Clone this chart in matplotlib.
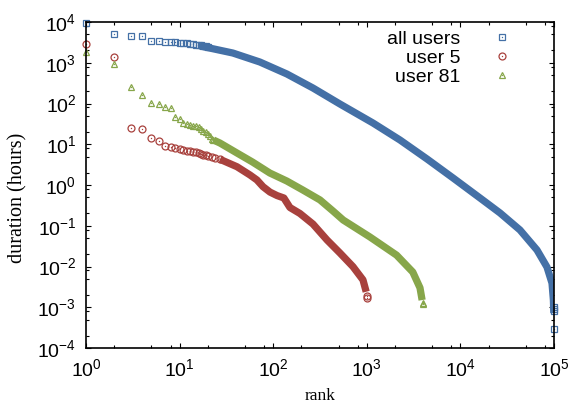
import numpy as np
import matplotlib
matplotlib.use("Agg")
import matplotlib.pyplot as plt
from matplotlib.ticker import LogLocator, NullFormatter, LogFormatterSciNotation

BLUE = '#4470a6'
RED = '#a8413d'
GREEN = '#87a64a'

# all users: the top ranks are separate points, the rest is a dense band
ALL_RANK_HEAD = [1, 2, 3, 4, 5, 6, 7, 8, 9, 10, 11, 12, 13, 14, 15, 16, 17, 18, 19, 20]
ALL_DUR_HEAD = [9500, 5100, 4500, 4500, 3400, 3350, 3300, 3250, 3200, 3100,
                3050, 3000, 2950, 2880, 2800, 2750, 2680, 2620, 2560, 2500]
ALL_RANK_BODY = [16.5, 37, 72, 140, 266, 517, 1165, 2263, 4400, 8340, 16200,
                 26500, 43300, 65800, 84100, 95200, 98500, 99500]
ALL_DUR_BODY = [2580, 1735, 1043, 530, 240, 97, 33.2, 12.7, 4.35, 1.49, 0.48,
                0.206, 0.0787, 0.0254, 0.0097, 0.0039, 0.0015, 0.00072]
ALL_RANK_TAIL = [99600, 99800, 99900, 100000]
ALL_DUR_TAIL = [0.0010, 0.0009, 0.0008, 0.0003]

# user 5
U5_RANK_HEAD = [1, 2, 3, 4, 5, 6, 7, 8, 9, 10, 11, 12, 13, 14, 15, 16, 17,
                18, 19, 20, 22, 24, 27]
U5_DUR_HEAD = [2900, 1380, 25.5, 24, 14, 11.8, 9.1, 8.8, 7.9, 7.7, 7.2, 6.9,
               6.7, 6.6, 6.5, 6.2, 5.8, 5.5, 5.3, 5.1, 4.8, 4.6, 4.27]
U5_RANK_BODY = [27, 41, 56.5, 67, 77.8, 92.4, 110, 130, 151, 193, 266, 376,
                517, 712, 910, 985]
U5_DUR_BODY = [4.27, 2.81, 1.76, 1.33, 0.91, 0.67, 0.55, 0.48, 0.28, 0.2,
               0.11, 0.0447, 0.0214, 0.0099, 0.0047, 0.0024]
U5_RANK_TAIL = [995, 1000]
U5_DUR_TAIL = [0.0019, 0.0017]

# user 81
U81_RANK_HEAD = [1, 2, 3, 4, 5, 6, 7, 8, 9, 10, 11, 12, 13, 14, 15, 16, 17,
                 18, 19, 20, 21, 22, 23]
U81_DUR_HEAD = [1866, 933, 259, 162, 103, 95, 82, 78, 47, 41, 34, 31, 29.5,
                28.5, 27.5, 26.5, 24, 21.5, 19.5, 17.5, 15.5, 13.5, 12.7]
U81_RANK_BODY = [23, 27, 41, 60, 92, 140, 208, 316, 435, 560, 1080, 2080,
                 3100, 3700, 3900]
U81_DUR_BODY = [12.7, 10.7, 6.1, 3.67, 1.97, 1.25, 0.75, 0.43, 0.23, 0.138,
                0.053, 0.019, 0.0073, 0.003, 0.0015]
U81_RANK_TAIL = [3950, 3960]
U81_DUR_TAIL = [0.0013, 0.0012]

plt.rcParams['font.family'] = 'Liberation Sans'
plt.rcParams['mathtext.fontset'] = 'custom'
plt.rcParams['mathtext.rm'] = 'Liberation Sans'
plt.rcParams['mathtext.it'] = 'Liberation Sans:italic'
plt.rcParams['mathtext.bf'] = 'Liberation Sans:bold'

fig = plt.figure(figsize=(5.71, 4.05), dpi=100)
ax = fig.add_axes([86 / 571, 1 - 348 / 405, 468 / 571, 326 / 405])

BAND_LW = 5.2
MS = 5


def plot_series(head_r, head_d, body_r, body_d, tail_r, tail_d, color, marker, label):
    ax.plot(body_r, body_d, '-', color=color, lw=BAND_LW,
            solid_capstyle='butt', solid_joinstyle='round')
    pts_r = head_r + tail_r
    pts_d = head_d + tail_d
    m, = ax.plot(pts_r, pts_d, ls='none', marker=marker, ms=MS, mfc='none',
                 mec=color, mew=0.9, clip_on=False)
    d, = ax.plot(pts_r, pts_d, ls='none', marker='o', ms=1.0, mfc=color,
                 mec=color, mew=0, clip_on=False)
    return (m, d), label


handles = []
handles.append(plot_series(ALL_RANK_HEAD, ALL_DUR_HEAD, ALL_RANK_BODY, ALL_DUR_BODY,
                           ALL_RANK_TAIL, ALL_DUR_TAIL, BLUE, 's', 'all users'))
handles.append(plot_series(U5_RANK_HEAD, U5_DUR_HEAD, U5_RANK_BODY, U5_DUR_BODY,
                           U5_RANK_TAIL, U5_DUR_TAIL, RED, 'o', 'user 5'))
handles.append(plot_series(U81_RANK_HEAD, U81_DUR_HEAD, U81_RANK_BODY, U81_DUR_BODY,
                           U81_RANK_TAIL, U81_DUR_TAIL, GREEN, '^', 'user 81'))

ax.set_xscale('log')
ax.set_yscale('log')
ax.set_xlim(1, 1e5)
ax.set_ylim(1e-4, 1e4)

ax.xaxis.set_major_locator(LogLocator(base=10, numticks=10))
ax.yaxis.set_major_locator(LogLocator(base=10, numticks=12))
ax.xaxis.set_minor_locator(LogLocator(base=10, subs=(2, 5, 8), numticks=10))
ax.yaxis.set_minor_locator(LogLocator(base=10, subs=(2, 5, 8), numticks=12))
ax.xaxis.set_major_formatter(LogFormatterSciNotation())
ax.yaxis.set_major_formatter(LogFormatterSciNotation())
ax.xaxis.set_minor_formatter(NullFormatter())
ax.yaxis.set_minor_formatter(NullFormatter())

ax.tick_params(which='both', direction='in', top=True, right=True, width=0.8)
ax.tick_params(which='major', length=3.8, labelsize=14)
ax.tick_params(which='minor', length=2.0)
ax.tick_params(axis='x', which='major', pad=7)
ax.tick_params(axis='y', which='major', pad=7)
for s in ax.spines.values():
    s.set_linewidth(1.2)

ax.set_xlabel('rank', family='Liberation Serif', fontsize=12.5, labelpad=6)
ax.set_ylabel('duration (hours)', family='Liberation Serif', fontsize=14.5)
ax.yaxis.set_label_coords(-0.126, 0.462)

leg = ax.legend([h for h, _ in handles], [l for _, l in handles],
                loc='upper right', bbox_to_anchor=(511 / 571, 1 - 30 / 405),
                bbox_transform=fig.transFigure, frameon=False, markerfirst=False,
                handlelength=0.9, handletextpad=1.7, labelspacing=0.08,
                borderpad=0, borderaxespad=0, fontsize=14, numpoints=1)

fig.savefig('out.png', dpi=100)
